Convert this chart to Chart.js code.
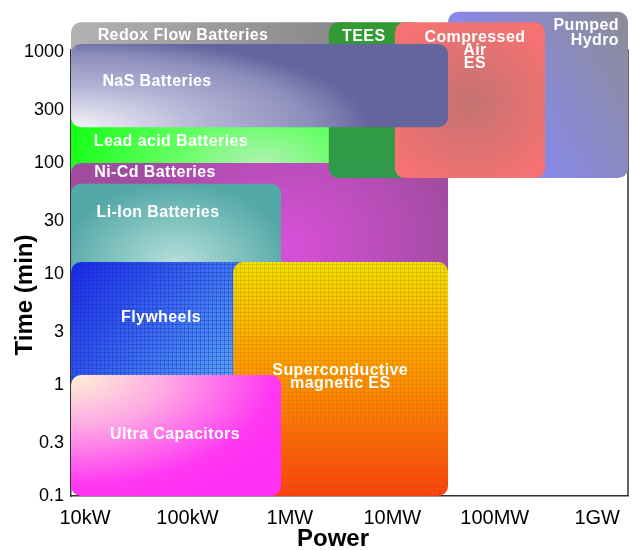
<!DOCTYPE html>
<html>
<head>
<meta charset="utf-8">
<script src="https://cdn.jsdelivr.net/npm/chart.js@4.4.0/dist/chart.umd.min.js"></script>
<style>
  body { margin: 0; background: #fff; }
</style>
</head>
<body>
<canvas id="grafico" width="632" height="550"></canvas>
<script>
// technologies, drawn back to front
const TECH = ['Pumped Hydro', 'Redox Flow Batteries', 'Lead acid Batteries', 'Ni-Cd Batteries', 'TEES',
  'Compressed Air ES', 'NaS Batteries', 'Li-Ion Batteries', 'Flywheels', 'Superconductive magnetic ES', 'Ultra Capacitors'];
// power range in kW
const P_MIN = [35000, 7.3, 7.3, 7.3, 2400, 10600, 7.3, 7.3, 7.3, 280, 7.3];
const P_MAX = [2000000, 5000, 5000, 35000, 20000, 310000, 35000, 820, 1000, 35000, 820];
// discharge time in minutes
const T_MIN = [73, 300, 60, 0.3, 73, 73, 210, 5, 0.5, 0.1, 0.1];
const T_MAX = [2300, 1850, 400, 100, 1850, 1850, 1180, 65, 12.8, 12.8, 1.23];

const X_TICKS = [10, 100, 1000, 10000, 100000, 1000000];
const X_LABELS = ['10kW', '100kW', '1MW', '10MW', '100MW', '1GW'];
const Y_TICKS = [0.1, 0.3, 1, 3, 10, 30, 100, 300, 1000];
const Y_LABELS = ['0.1', '0.3', '1', '3', '10', '30', '100', '300', '1000'];

const FONT = '"Liberation Sans", Arial, Helvetica, sans-serif';

function gridPattern(ctx, col) {
  const c = document.createElement('canvas');
  c.width = 4; c.height = 4;
  const g = c.getContext('2d');
  g.fillStyle = col;
  g.fillRect(0, 0, 4, 1);
  g.fillRect(0, 0, 1, 4);
  return ctx.createPattern(c, 'repeat');
}

function linear(ctx, x0, y0, x1, y1, stops) {
  const g = ctx.createLinearGradient(x0, y0, x1, y1);
  stops.forEach(s => g.addColorStop(s[0], s[1]));
  return g;
}

// elliptical radial fill inside the current clip
function ellipse(ctx, r, cx, cy, rx, ry, stops) {
  ctx.save();
  ctx.translate(cx, cy);
  ctx.scale(1, ry / rx);
  const g = ctx.createRadialGradient(0, 0, 0, 0, 0, rx);
  stops.forEach(s => g.addColorStop(s[0], s[1]));
  ctx.fillStyle = g;
  ctx.fillRect(-2000, -2000, 4000, 4000);
  ctx.restore();
}

// look of every box: fill + label placement (pixels from box corner)
const STYLE = {
  'Pumped Hydro': {
    fill: (ctx, r) => { ctx.fillStyle = linear(ctx, r.r, r.t, r.r - 150, r.t + 90, [[0, '#8c8c96'], [1, '#8888f4']]); ctx.fill(); },
    lines: ['Pumped', 'Hydro'], dx: -9, dy: 14, lh: 15, align: 'right'
  },
  'Redox Flow Batteries': {
    fill: (ctx, r) => { ctx.fillStyle = linear(ctx, r.l, 0, r.l + 260, 0, [[0, '#b2b2b2'], [1, '#8a8a8a']]); ctx.fill(); },
    lines: ['Redox Flow Batteries'], dx: 112, dy: 13
  },
  'Lead acid Batteries': {
    fill: (ctx, r) => { ctx.clip(); ellipse(ctx, r, r.l + 190, r.t + 70, 200, 110, [[0, '#b4f0b4'], [0.4, '#6aff6a'], [1, '#14ff14']]); },
    lines: ['Lead acid Batteries'], dx: 100, dy: 46
  },
  'Ni-Cd Batteries': {
    fill: (ctx, r) => { ctx.clip(); ellipse(ctx, r, r.l + 220, r.t + 80, 170, 150, [[0, '#d850d8'], [1, '#a04ca0']]); },
    lines: ['Ni-Cd Batteries'], dx: 84, dy: 10
  },
  'TEES': {
    fill: (ctx, r) => { ctx.fillStyle = linear(ctx, 0, r.t, 0, r.b, [[0, '#339933'], [1, '#2f9a4c']]); ctx.fill(); },
    lines: ['TEES'], dx: 35, dy: 14
  },
  'Compressed Air ES': {
    fill: (ctx, r) => { ctx.clip(); ellipse(ctx, r, (r.l + r.r) / 2, r.t + 80, 95, 90, [[0, '#c47272'], [1, '#f67272']]); },
    lines: ['Compressed', 'Air', 'ES'], dx: 80, dy: 15, lh: 13
  },
  'NaS Batteries': {
    fill: (ctx, r) => { ctx.clip(); ellipse(ctx, r, r.l, r.b, 300, 90, [[0, '#f4f4f8'], [0.45, '#b4b4d6'], [0.8, '#8e8ebc'], [1, '#64649f']]); },
    lines: ['NaS Batteries'], dx: 86, dy: 38
  },
  'Li-Ion Batteries': {
    fill: (ctx, r) => { ctx.clip(); ellipse(ctx, r, (r.l + r.r) / 2, r.t + 80, 115, 80, [[0, '#b6dfdb'], [0.55, '#80c2be'], [1, '#55a8a8']]); },
    lines: ['Li-Ion Batteries'], dx: 87, dy: 29
  },
  'Flywheels': {
    fill: (ctx, r) => {
      ctx.fillStyle = linear(ctx, r.l, r.t, r.l + 160, r.t + 130, [[0, '#1a28e6'], [1, '#5aaaf2']]); ctx.fill();
      ctx.fillStyle = gridPattern(ctx, 'rgba(20,40,200,0.35)'); ctx.fill();
    },
    lines: ['Flywheels'], dx: 90, dy: 56
  },
  'Superconductive magnetic ES': {
    fill: (ctx, r) => {
      ctx.fillStyle = linear(ctx, 0, r.t, 0, r.b, [[0, '#f0e400'], [0.45, '#ff9a00'], [1, '#ff3a10']]); ctx.fill();
      ctx.fillStyle = gridPattern(ctx, 'rgba(190,120,0,0.3)'); ctx.fill();
    },
    lines: ['Superconductive', 'magnetic ES'], dx: 107, dy: 109, lh: 13
  },
  'Ultra Capacitors': {
    fill: (ctx, r) => { ctx.clip(); ellipse(ctx, r, r.l, r.t, 240, 130, [[0, '#fff3d4'], [0.4, '#ffa8e4'], [0.85, '#ff38f2'], [1, '#ff30f4']]); },
    lines: ['Ultra Capacitors'], dx: 104, dy: 60
  }
};

const boxPlugin = {
  id: 'boxes',
  beforeDatasetsDraw(chart) {
    const ctx = chart.ctx, a = chart.chartArea;
    const xs = chart.scales.x, ys = chart.scales.y;
    // frame on the right and top
    ctx.save();
    ctx.strokeStyle = '#333';
    ctx.lineWidth = 1.5;
    ctx.beginPath();
    ctx.moveTo(a.left, a.top); ctx.lineTo(a.right, a.top); ctx.lineTo(a.right, a.bottom);
    ctx.stroke();
    ctx.restore();

    const rects = TECH.map((t, i) => ({
      l: xs.getPixelForValue(P_MIN[i]), r: xs.getPixelForValue(P_MAX[i]),
      t: ys.getPixelForValue(T_MAX[i]), b: ys.getPixelForValue(T_MIN[i])
    }));
    TECH.forEach((t, i) => {
      const r = rects[i];
      ctx.save();
      ctx.beginPath();
      ctx.roundRect(r.l, r.t, r.r - r.l, r.b - r.t, 10);
      STYLE[t].fill(ctx, r);
      ctx.restore();
    });
    // labels on top of everything
    ctx.save();
    ctx.fillStyle = '#fff';
    ctx.font = 'bold 16px ' + FONT;
    ctx.letterSpacing = '0.4px';
    ctx.textBaseline = 'middle';
    TECH.forEach((t, i) => {
      const s = STYLE[t], r = rects[i];
      ctx.textAlign = s.align || 'center';
      const x0 = s.align === 'right' ? r.r + s.dx : r.l + s.dx;
      s.lines.forEach((ln, k) => ctx.fillText(ln, x0, r.t + s.dy + k * (s.lh || 15)));
    });
    ctx.restore();
  },
  afterDraw(chart) {
    const ctx = chart.ctx;
    ctx.save();
    ctx.fillStyle = '#000';
    ctx.font = 'bold 24px ' + FONT;
    ctx.textAlign = 'center';
    ctx.textBaseline = 'middle';
    ctx.fillText('Power', 333, 539);
    ctx.translate(25, 295);
    ctx.rotate(-Math.PI / 2);
    ctx.font = 'bold 24px ' + FONT;
    ctx.fillText('Time (min)', 0, 0);
    ctx.restore();
  }
};

new Chart(document.getElementById('grafico'), {
  type: 'scatter',
  data: {
    datasets: TECH.map((t, i) => ({
      label: t,
      data: [{ x: P_MIN[i], y: T_MIN[i] }, { x: P_MAX[i], y: T_MAX[i] }],
      pointRadius: 0,
      showLine: false
    }))
  },
  options: {
    responsive: false,
    animation: false,
    layout: { padding: { top: 50, right: 4, left: 0, bottom: 0 } },
    plugins: { legend: { display: false }, tooltip: { enabled: false } },
    scales: {
      x: {
        type: 'logarithmic',
        min: 7.3,
        max: 2000000,
        afterBuildTicks: s => { s.ticks = X_TICKS.map(v => ({ value: v })); },
        afterFit: s => { s.height = 54; },
        ticks: {
          callback: (v, i) => X_LABELS[i],
          font: { family: FONT, size: 20 },
          color: '#000',
          padding: 10,
          autoSkip: false,
          maxRotation: 0
        },
        grid: { display: false, drawTicks: false },
        border: { display: true, color: '#333', width: 1.5 }
      },
      y: {
        type: 'logarithmic',
        min: 0.1,
        max: 1040,
        afterBuildTicks: s => { s.ticks = Y_TICKS.map(v => ({ value: v })); },
        afterFit: s => { s.width = 71; },
        ticks: {
          callback: (v, i) => Y_LABELS[i],
          font: { family: FONT, size: 18 },
          color: '#000',
          padding: 7,
          autoSkip: false
        },
        grid: { display: false, drawTicks: false },
        border: { display: true, color: '#333', width: 1.5 }
      }
    }
  },
  plugins: [boxPlugin]
});
</script>
</body>
</html>
